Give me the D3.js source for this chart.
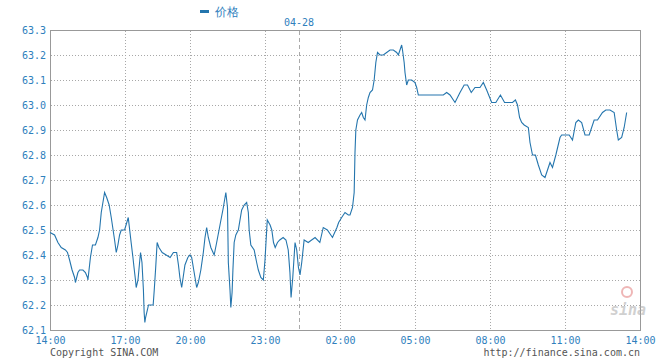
<!DOCTYPE html>
<html>
<head>
<meta charset="utf-8">
<script src="https://cdn.jsdelivr.net/npm/d3@7"></script>
<style>
body{margin:0;background:#fff;}
text{font-family:"DejaVu Sans Mono",monospace;}
</style>
</head>
<body>
<div id="chart"></div>
<script>
// intraday prices, 04-27 14:00 -> 04-28 14:00
var times = ["14:00","14:11","14:19","14:27","14:37","14:42","14:47","14:53","14:59","15:01","15:07","15:11","15:19","15:25","15:30","15:31","15:33","15:37","15:42","15:49","15:55","15:59","16:03","16:07","16:11","16:16","16:22","16:27","16:35","16:39","16:43","16:47","16:51","16:59",
"17:05","17:09","17:13","17:17","17:22","17:25","17:29","17:31","17:36","17:41","17:43","17:47","17:51","17:53","17:55","17:57","18:02","18:05","18:12","18:18","18:21","18:25","18:29","18:34","18:43","18:54","19:05","19:14","19:23","19:28","19:32","19:37","19:41","19:46","19:54","20:00",
"20:04","20:08","20:12","20:16","20:20","20:26","20:32","20:36","20:40","20:44","20:50","20:58","21:04","21:12","21:20","21:26","21:30","21:32","21:36","21:38","21:41","21:43","21:46","21:50","21:56","22:04","22:10","22:16","22:20","22:22","22:26","22:34","22:40","22:44","22:50","22:56",
"23:00","23:04","23:09","23:12","23:15","23:18","23:22","23:26","23:32","23:37","23:41","23:44","23:46","23:49","23:51","23:53","23:56","23:59",
"00:03","00:08","00:15","00:27","00:37","00:47","01:01","01:11","01:23","01:38","01:51","01:56",
"02:04","02:12","02:20","02:24","02:30","02:34","02:36","02:38","02:42","02:48","02:52","02:56","03:00","03:04","03:08","03:12","03:18","03:22","03:26","03:30","03:36","03:44","03:52","04:00","04:08","04:16","04:20","04:24","04:28","04:30","04:34","04:36","04:40","04:44","04:52","05:00","05:04","05:08",
"06:08","06:16","06:24","06:36","06:48","06:58","07:06","07:15","07:24","07:36","07:44","07:52","08:04","08:14","08:25","08:35","08:44","08:54","09:01","09:06","09:11","09:16","09:22","09:32","09:36","09:42","09:49","09:56","10:04","10:12","10:18","10:24","10:30","10:38","10:48","10:52","11:10","11:18","11:26","11:32","11:40","11:48","11:58","12:10","12:18","12:30","12:38","12:48","12:58","13:04","13:08","13:16","13:22","13:28"];

var prices = [62.49,62.48,62.45,62.43,62.42,62.41,62.38,62.34,62.31,62.29,62.33,62.34,62.34,62.33,62.31,62.30,62.33,62.39,62.44,62.44,62.47,62.50,62.57,62.61,62.65,62.63,62.60,62.55,62.46,62.41,62.44,62.48,62.50,62.50,
62.53,62.55,62.50,62.45,62.39,62.35,62.30,62.27,62.30,62.38,62.41,62.37,62.26,62.17,62.13,62.15,62.18,62.20,62.20,62.20,62.26,62.35,62.45,62.43,62.41,62.40,62.39,62.41,62.41,62.36,62.31,62.27,62.31,62.36,62.39,62.40,
62.39,62.35,62.31,62.27,62.29,62.34,62.41,62.47,62.51,62.47,62.43,62.40,62.45,62.52,62.59,62.65,62.59,62.37,62.26,62.19,62.25,62.34,62.45,62.48,62.50,62.58,62.60,62.61,62.57,62.50,62.44,62.42,62.37,62.34,62.31,62.30,
62.38,62.54,62.52,62.50,62.45,62.43,62.45,62.46,62.47,62.46,62.42,62.33,62.23,62.31,62.38,62.45,62.42,62.35,
62.32,62.37,62.46,62.45,62.46,62.47,62.45,62.51,62.50,62.47,62.51,62.53,
62.55,62.57,62.56,62.56,62.59,62.65,62.81,62.90,62.94,62.96,62.97,62.95,62.94,63.00,63.03,63.05,63.06,63.10,63.17,63.21,63.20,63.20,63.21,63.22,63.22,63.21,63.20,63.22,63.24,63.22,63.17,63.13,63.08,63.10,63.10,63.09,63.07,63.04,
63.04,63.05,63.04,63.01,63.05,63.08,63.08,63.05,63.07,63.07,63.09,63.06,63.01,63.01,63.04,63.01,63.01,63.01,63.02,63.00,62.95,62.93,62.92,62.91,62.85,62.80,62.80,62.76,62.72,62.71,62.74,62.77,62.75,62.80,62.87,62.88,62.88,62.86,62.93,62.94,62.93,62.88,62.88,62.94,62.94,62.97,62.98,62.98,62.97,62.90,62.86,62.87,62.91,62.97];

var xTickLabels = ["14:00","17:00","20:00","23:00","02:00","05:00","08:00","11:00","14:00"];
var yTicks = [62.1,62.2,62.3,62.4,62.5,62.6,62.7,62.8,62.9,63.0,63.1,63.2,63.3];
var seriesName = "价格";
var dayLabel = "04-28";

var W = 660, H = 360;
var pLeft = 50, pRight = 640, pTop = 30, pBottom = 330;
var blue = "#2475ad", labelBlue = "#2f80bd";

// minutes after 14:00 of the first day
function toMinutes(t) {
  var h = +t.slice(0, 2), m = +t.slice(3, 5);
  return h >= 14 ? (h - 14) * 60 + m : (h + 10) * 60 + m;
}

var data = times.map(function (t, i) { return { m: toMinutes(t), v: prices[i] }; });

var svg = d3.select("#chart").append("svg")
  .attr("width", W).attr("height", H);

// time axis is not even: sessions are squeezed in the original
var xScale = d3.scaleLinear()
  .domain([0, 180, 360, 540, 600, 720, 900, 1080, 1260, 1440])
  .range([pLeft, 125, 190, 265, 299, 340, 415, 490, 565, pRight]);

var yScale = d3.scaleLinear().domain([62.1, 63.3]).range([pBottom, pTop]);

var tickMinutes = xTickLabels.map(function (d, i) { return i * 180; });

// grid
var grid = svg.append("g").attr("transform", "translate(0.5,0.5)")
  .attr("shape-rendering", "crispEdges");
grid.selectAll("line.h").data(yTicks.slice(1, -1)).enter().append("line")
  .attr("class", "h")
  .attr("x1", pLeft).attr("x2", pRight)
  .attr("y1", function (d) { return Math.round(yScale(d)); })
  .attr("y2", function (d) { return Math.round(yScale(d)); })
  .attr("stroke", "#a8a8a8").attr("stroke-dasharray", "1,2");
grid.selectAll("line.v").data(tickMinutes.slice(1, -1)).enter().append("line")
  .attr("class", "v")
  .attr("y1", pTop).attr("y2", pBottom)
  .attr("x1", function (d) { return Math.round(xScale(d)); })
  .attr("x2", function (d) { return Math.round(xScale(d)); })
  .attr("stroke", "#a8a8a8").attr("stroke-dasharray", "1,2");

// day boundary
var midnight = toMinutes("00:00");
grid.append("line")
  .attr("x1", Math.round(xScale(midnight))).attr("x2", Math.round(xScale(midnight)))
  .attr("y1", pTop).attr("y2", pBottom)
  .attr("stroke", "#aaa").attr("stroke-dasharray", "4,3");

// frame
grid.append("rect")
  .attr("x", pLeft).attr("y", pTop)
  .attr("width", pRight - pLeft).attr("height", pBottom - pTop)
  .attr("fill", "none").attr("stroke", "#999");

// watermark
var logo = svg.append("g").attr("opacity", 0.55);
logo.append("circle").attr("cx", 627).attr("cy", 292).attr("r", 5)
  .attr("fill", "none").attr("stroke", "#e27c7c").attr("stroke-width", 2);
logo.append("text").attr("x", 610).attr("y", 315)
  .attr("font-family", "DejaVu Sans").attr("font-style", "italic").attr("font-weight", "bold")
  .attr("font-size", 15).attr("fill", "#aaa").text("sina");

// axes (labels only)
var yAxis = d3.axisLeft(yScale).tickValues(yTicks).tickSize(0).tickPadding(4)
  .tickFormat(d3.format(".1f"));
var gy = svg.append("g").attr("transform", "translate(" + pLeft + ",0)").call(yAxis);
gy.select(".domain").remove();
gy.selectAll("text").attr("font-family", "DejaVu Sans Mono").attr("font-size", 10).attr("fill", labelBlue);

var xAxis = d3.axisBottom(xScale).tickValues(tickMinutes).tickSize(0).tickPadding(7)
  .tickFormat(function (d, i) { return xTickLabels[i]; });
var gx = svg.append("g").attr("transform", "translate(0," + pBottom + ")").call(xAxis);
gx.select(".domain").remove();
gx.selectAll("text").attr("font-family", "DejaVu Sans Mono").attr("font-size", 10).attr("fill", labelBlue);

// price line
var line = d3.line()
  .x(function (d) { return xScale(d.m); })
  .y(function (d) { return yScale(d.v); });
svg.append("path").datum(data)
  .attr("d", line)
  .attr("fill", "none").attr("stroke", blue).attr("stroke-width", 1.1);

// legend
svg.append("rect").attr("x", 200).attr("y", 10).attr("width", 9).attr("height", 3).attr("fill", blue);
svg.append("text").attr("x", 215).attr("y", 16)
  .attr("font-family", "Noto Sans CJK SC").attr("font-size", 12).attr("fill", labelBlue)
  .text(seriesName);
svg.append("text").attr("x", xScale(midnight)).attr("y", 26).attr("text-anchor", "middle")
  .attr("font-size", 10).attr("fill", labelBlue).text(dayLabel);

// footer
svg.append("text").attr("x", 50).attr("y", 356)
  .attr("font-size", 10).attr("fill", "#555").text("Copyright  SINA.COM");
svg.append("text").attr("x", 640).attr("y", 356).attr("text-anchor", "end")
  .attr("font-size", 10).attr("fill", "#555").text("http://finance.sina.com.cn");
</script>
</body>
</html>
